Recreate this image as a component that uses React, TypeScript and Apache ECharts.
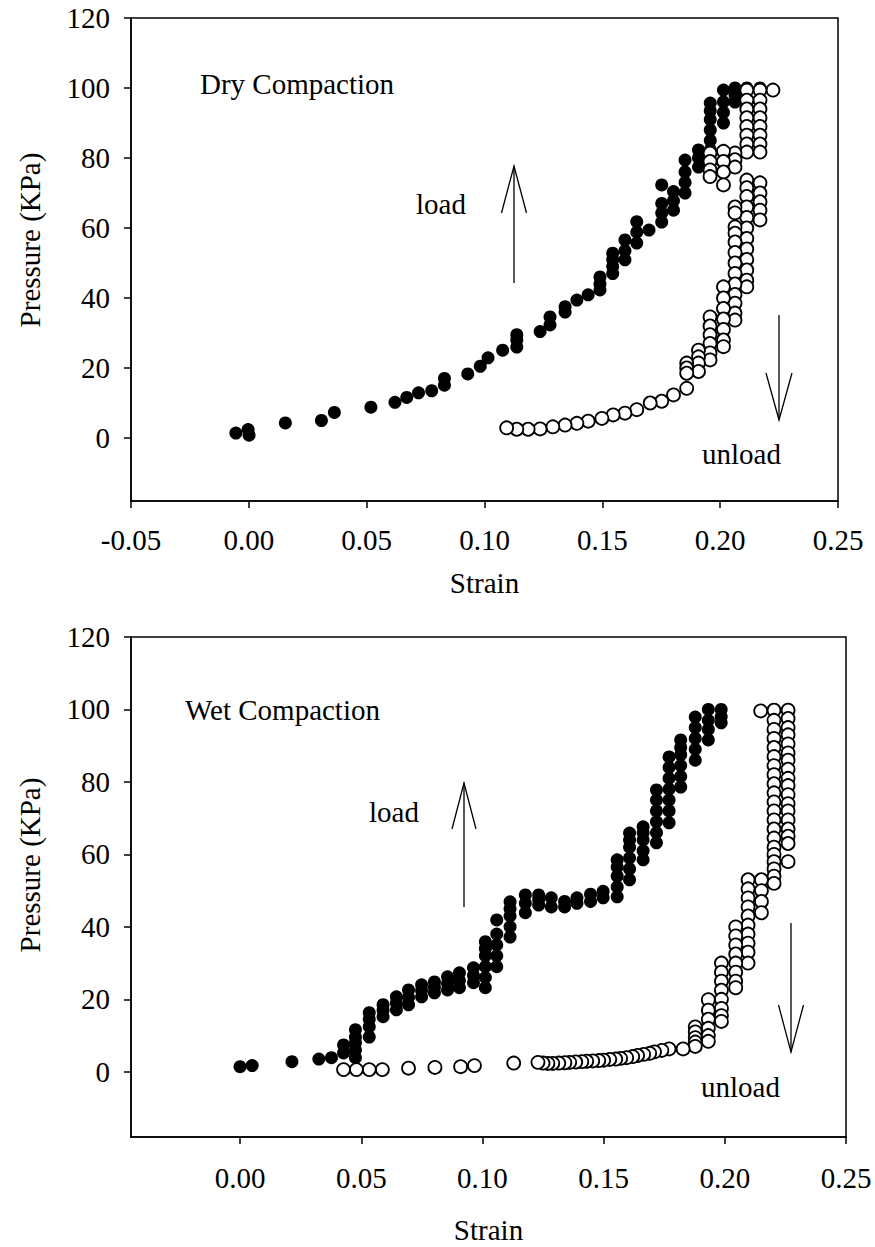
import React, { useEffect, useRef } from "react";
import * as echarts from "echarts";

// ---------- data ----------
const yTicks = [0, 20, 40, 60, 80, 100, 120];
const dryXTicks = [-0.05, 0, 0.05, 0.1, 0.15, 0.2, 0.25];
const wetXTicks = [0, 0.05, 0.1, 0.15, 0.2, 0.25];

// Dry compaction – load (filled)
const dryLoad = [
  [-0.0055, 1.4], [-0.0003, 2.4], [0.0001, 0.8], [0.0155, 4.3], [0.0308, 5.0], [0.0363, 7.3],
  [0.0518, 8.8], [0.062, 10.2], [0.067, 11.6], [0.072, 12.9], [0.0776, 13.5], [0.083, 15.1],
  [0.083, 17.0], [0.0929, 18.3], [0.0982, 20.5], [0.1015, 22.9], [0.1077, 25.1], [0.1137, 26.0],
  [0.1137, 28.0], [0.1137, 29.5], [0.1236, 30.4], [0.1278, 32.3], [0.1278, 34.6], [0.1342, 36.0],
  [0.1342, 37.5], [0.1392, 39.4], [0.144, 40.9], [0.149, 42.3], [0.149, 44.0], [0.149, 46.0],
  [0.1544, 47.0], [0.1544, 49.0], [0.1544, 51.0], [0.1544, 52.8], [0.1596, 50.9], [0.1596, 53.5],
  [0.1596, 56.6], [0.1646, 55.7], [0.1646, 58.8], [0.1646, 61.8], [0.1698, 59.4], [0.1752, 72.3],
  [0.1752, 61.7], [0.1752, 64.3], [0.1752, 67.0], [0.1802, 65.1], [0.1802, 67.8], [0.1802, 70.4],
  [0.1851, 70.0], [0.1851, 73.0], [0.1851, 76.0], [0.1851, 79.4], [0.1908, 77.4], [0.1908, 80.0],
  [0.1908, 82.3], [0.1958, 82.3], [0.1958, 85.0], [0.1958, 88.0], [0.1958, 91.0], [0.1958, 93.5],
  [0.1958, 95.7], [0.2014, 90.0], [0.2014, 93.0], [0.2014, 96.0], [0.2014, 99.4], [0.2063, 96.0],
  [0.2063, 98.0], [0.2063, 100.0], [0.2113, 100.0], [0.2169, 100.0],
];

// Dry compaction – unload (open), in unloading order
const dryUnload = [
  [0.2224, 99.4],
  [0.2169, 99.4], [0.2169, 96.5], [0.2169, 94.0], [0.2169, 91.5], [0.2169, 89.0], [0.2169, 86.5], [0.2169, 84.0], [0.2169, 81.7],
  [0.2113, 99.4], [0.2113, 96.5], [0.2113, 94.0], [0.2113, 91.5], [0.2113, 89.0], [0.2113, 86.5], [0.2113, 84.0], [0.2113, 81.7],
  [0.2063, 81.4], [0.2063, 79.5], [0.2063, 77.4],
  [0.2014, 81.9], [0.2014, 79.0], [0.2014, 76.0], [0.2014, 72.3],
  [0.1957, 81.4], [0.1957, 79.0], [0.1957, 76.6], [0.1957, 74.7],
  [0.2169, 72.9], [0.2169, 70.0], [0.2169, 67.5], [0.2169, 65.1], [0.2169, 62.3],
  [0.2113, 73.7], [0.2113, 71.5], [0.2113, 69.0], [0.2113, 66.0], [0.2113, 63.0], [0.2113, 60.0],
  [0.2113, 57.0], [0.2113, 54.0], [0.2113, 51.0], [0.2113, 48.0], [0.2113, 45.1], [0.2113, 43.2],
  [0.2063, 66.0], [0.2063, 64.3], [0.2063, 60.3], [0.2063, 58.5], [0.2063, 56.0], [0.2063, 53.0],
  [0.2063, 50.0], [0.2063, 47.0], [0.2063, 44.0], [0.2063, 41.0], [0.2063, 38.5], [0.2063, 35.7], [0.2063, 33.7],
  [0.2014, 43.2], [0.2014, 40.0], [0.2014, 37.0], [0.2014, 34.0], [0.2014, 31.0], [0.2014, 28.0], [0.2014, 26.1],
  [0.1957, 34.6], [0.1957, 32.0], [0.1957, 29.5], [0.1957, 27.0], [0.1957, 24.3], [0.1957, 22.3],
  [0.1908, 25.1], [0.1908, 23.2], [0.1908, 21.4], [0.1908, 19.0],
  [0.1858, 21.4], [0.1858, 20.0], [0.1858, 18.5], [0.1858, 14.2],
  [0.1802, 12.3], [0.1752, 10.5], [0.1703, 10.0], [0.1646, 8.1], [0.1596, 7.1], [0.1546, 6.6],
  [0.1498, 5.6], [0.144, 4.8], [0.1392, 4.2], [0.1342, 3.7], [0.129, 3.2], [0.1236, 2.6],
  [0.1185, 2.5], [0.1137, 2.5], [0.1094, 2.9],
];

// Wet compaction – load (filled)
const wetLoad = [
  [0.0, 1.4], [0.005, 1.7], [0.0214, 2.8], [0.0325, 3.5], [0.0377, 3.9], [0.0427, 5.2], [0.0427, 7.4],
  [0.0476, 3.9], [0.0476, 6.0], [0.0476, 8.0], [0.0476, 9.6], [0.0476, 11.6], [0.0533, 9.6],
  [0.0533, 12.4], [0.0533, 14.5], [0.0533, 16.3], [0.059, 15.2], [0.059, 17.0], [0.059, 18.5],
  [0.0645, 17.1], [0.0645, 19.0], [0.0645, 20.7], [0.0695, 18.5], [0.0695, 20.5], [0.0695, 22.6],
  [0.0749, 20.7], [0.0749, 22.4], [0.0749, 24.0], [0.0802, 21.8], [0.0802, 23.3], [0.0802, 24.8],
  [0.0856, 22.6], [0.0856, 24.4], [0.0856, 26.2], [0.0905, 23.2], [0.0905, 25.2], [0.0905, 27.3],
  [0.0963, 24.6], [0.0963, 26.6], [0.0963, 28.7], [0.1012, 23.2], [0.1012, 26.0], [0.1012, 29.0],
  [0.1012, 32.0], [0.1012, 34.0], [0.1012, 35.9], [0.1059, 29.0], [0.1059, 32.0], [0.1059, 35.0],
  [0.1059, 38.0], [0.1059, 41.9], [0.1114, 37.2], [0.1114, 40.0], [0.1114, 43.0], [0.1114, 45.0],
  [0.1114, 46.9], [0.1177, 43.9], [0.1177, 46.5], [0.1177, 48.8], [0.1232, 46.0], [0.1232, 47.5],
  [0.1232, 48.8], [0.1284, 45.5], [0.1284, 48.0], [0.1339, 45.5], [0.1339, 47.0], [0.139, 46.5],
  [0.139, 48.0], [0.1446, 47.0], [0.1446, 49.0], [0.1498, 48.0], [0.1498, 49.8], [0.1556, 48.3],
  [0.1556, 51.0], [0.1556, 54.0], [0.1556, 56.5], [0.1556, 58.5], [0.1607, 53.0], [0.1607, 56.0],
  [0.1607, 59.0], [0.1607, 62.0], [0.1607, 64.0], [0.1607, 65.9], [0.1663, 58.5], [0.1663, 61.0],
  [0.1663, 64.0], [0.1663, 66.0], [0.1663, 67.6], [0.1718, 63.2], [0.1718, 66.0], [0.1718, 69.0],
  [0.1718, 72.0], [0.1718, 75.0], [0.1718, 77.8], [0.177, 68.7], [0.177, 72.0], [0.177, 75.0],
  [0.177, 78.0], [0.177, 81.0], [0.177, 84.0], [0.177, 86.9], [0.1818, 78.6], [0.1818, 81.5],
  [0.1818, 84.5], [0.1818, 87.5], [0.1818, 89.5], [0.1818, 91.6], [0.1878, 86.0], [0.1878, 89.0],
  [0.1878, 92.0], [0.1878, 95.0], [0.1878, 97.9], [0.1932, 91.6], [0.1932, 94.5], [0.1932, 97.0],
  [0.1932, 100.0], [0.1985, 96.3], [0.1985, 98.0], [0.1985, 100.0], [0.2203, 100.0], [0.2261, 100.0],
];

// Wet compaction – unload (open), in unloading order
const wetUnload = [
  [0.2148, 99.6],
  [0.2261, 99.8], [0.2261, 97.5], [0.2261, 95.0], [0.2261, 93.0], [0.2261, 90.5], [0.2261, 88.0],
  [0.2261, 86.0], [0.2261, 83.5], [0.2261, 81.0], [0.2261, 79.0], [0.2261, 76.5], [0.2261, 74.0],
  [0.2261, 72.0], [0.2261, 69.5], [0.2261, 67.0], [0.2261, 65.0], [0.2261, 63.0], [0.2261, 58.0],
  [0.2203, 99.8], [0.2203, 97.0], [0.2203, 94.5], [0.2203, 92.0], [0.2203, 89.5], [0.2203, 87.0],
  [0.2203, 84.5], [0.2203, 82.0], [0.2203, 79.5], [0.2203, 77.0], [0.2203, 74.5], [0.2203, 72.0],
  [0.2203, 69.5], [0.2203, 67.0], [0.2203, 64.5], [0.2203, 62.0], [0.2203, 60.0], [0.2203, 58.0],
  [0.2203, 56.0], [0.2203, 54.0], [0.2203, 52.0],
  [0.2151, 53.0], [0.2151, 50.0], [0.2151, 47.0], [0.2151, 43.9],
  [0.2096, 53.0], [0.2096, 50.5], [0.2096, 48.0], [0.2096, 45.5], [0.2096, 43.0], [0.2096, 40.5],
  [0.2096, 38.0], [0.2096, 35.5], [0.2096, 33.0], [0.2096, 30.0],
  [0.2045, 40.0], [0.2045, 37.5], [0.2045, 35.0], [0.2045, 32.5], [0.2045, 30.0], [0.2045, 27.5],
  [0.2045, 25.0], [0.2045, 23.2],
  [0.1986, 30.0], [0.1986, 27.5], [0.1986, 25.0], [0.1986, 22.5], [0.1986, 20.0], [0.1986, 17.5],
  [0.1986, 15.5], [0.1986, 13.9],
  [0.1932, 19.9], [0.1932, 17.0], [0.1932, 14.5], [0.1932, 12.0], [0.1932, 10.0], [0.1932, 8.4],
  [0.1878, 12.4], [0.1878, 11.0], [0.1878, 9.4], [0.1878, 8.2], [0.1878, 7.0],
  [0.1828, 6.3], [0.177, 6.3], [0.174, 5.9], [0.171, 5.5], [0.169, 5.1], [0.1665, 4.8],
  [0.164, 4.5], [0.162, 4.2], [0.1595, 3.9], [0.157, 3.7], [0.155, 3.5], [0.1525, 3.4],
  [0.15, 3.2], [0.148, 3.1], [0.1455, 3.0], [0.143, 2.9], [0.141, 2.8], [0.1385, 2.7],
  [0.136, 2.6], [0.134, 2.5], [0.1315, 2.4], [0.129, 2.3], [0.127, 2.3], [0.125, 2.4],
  [0.1229, 2.6], [0.1129, 2.4], [0.0967, 1.7], [0.091, 1.4], [0.0804, 1.2], [0.0695, 1.0],
  [0.0587, 0.6], [0.0533, 0.6], [0.048, 0.6], [0.0427, 0.6],
];

const FONT = "Liberation Serif";

export default function App() {
  const ref = useRef<HTMLDivElement>(null);

  useEffect(() => {
    const chart = echarts.init(ref.current as HTMLDivElement, null, { renderer: "svg" });

    const txt = { color: "#000", fontFamily: FONT, fontSize: 29 };
    const line = { color: "#000", width: 1.5 };

    const xAxis = (gridIndex: number, min: number, ticks: number[], nameGap: number, margin: number) => ({
      gridIndex,
      type: "value",
      min,
      max: 0.25,
      axisLine: { show: true, onZero: false, lineStyle: line },
      axisTick: { show: true, inside: false, length: 7, customValues: ticks, lineStyle: line },
      axisLabel: {
        ...txt,
        margin,
        customValues: ticks,
        formatter: (v: number) => v.toFixed(2),
      },
      splitLine: { show: false },
      name: "Strain",
      nameLocation: "middle",
      nameGap,
      nameTextStyle: { ...txt },
    });

    const yAxis = (gridIndex: number) => ({
      gridIndex,
      type: "value",
      min: -18,
      max: 120,
      axisLine: { show: true, onZero: false, lineStyle: line },
      axisTick: { show: true, inside: false, length: 7, customValues: yTicks, lineStyle: line },
      axisLabel: { ...txt, margin: 21, customValues: yTicks },
      splitLine: { show: false },
    });

    const filled = (xi: number, data: number[][]) => ({
      type: "scatter",
      xAxisIndex: xi,
      yAxisIndex: xi,
      data,
      symbol: "circle",
      symbolSize: 13,
      itemStyle: { color: "#000", opacity: 1 },
      z: 2,
      silent: true,
    });
    const open = (xi: number, data: number[][]) => ({
      type: "scatter",
      xAxisIndex: xi,
      yAxisIndex: xi,
      data,
      symbol: "circle",
      symbolSize: 13,
      itemStyle: { color: "#fff", borderColor: "#000", borderWidth: 1.8, opacity: 1 },
      z: 3,
      silent: true,
    });

    const label = (text: string, x: number, y: number, rotate = false) => ({
      type: "text",
      x,
      y,
      rotation: rotate ? Math.PI / 2 : 0,
      style: {
        text,
        fill: "#000",
        fontFamily: FONT,
        fontSize: 29,
        textAlign: rotate ? "center" : "left",
        textVerticalAlign: "middle",
      },
    });
    const stroke = { stroke: "#000", lineWidth: 1.3, fill: null };
    const arrow = (x: number, yTail: number, yTip: number, headY: number, half: number) => [
      { type: "line", shape: { x1: x, y1: yTail, x2: x, y2: yTip }, style: stroke },
      {
        type: "polyline",
        shape: { points: [[x - half, headY], [x, yTip], [x + half, headY]] },
        style: stroke,
      },
    ];

    chart.setOption({
      animation: false,
      backgroundColor: "#fff",
      grid: [
        { left: 131, top: 18, width: 707, height: 483, show: true, borderColor: "#000", borderWidth: 1.5 },
        { left: 131, top: 637, width: 715, height: 500, show: true, borderColor: "#000", borderWidth: 1.5 },
      ],
      xAxis: [xAxis(0, -0.05, dryXTicks, 67, 24), xAxis(1, -0.045, wetXTicks, 78, 26)],
      yAxis: [yAxis(0), yAxis(1)],
      series: [filled(0, dryLoad), open(0, dryUnload), filled(1, wetLoad), open(1, wetUnload)],
      graphic: [
        label("Pressure (KPa)", 30, 240, true),
        label("Pressure (KPa)", 30, 865, true),
        label("Dry Compaction", 200, 84),
        label("load", 416, 204),
        label("unload", 702, 454),
        label("Wet Compaction", 185, 710),
        label("load", 369, 812),
        label("unload", 701, 1087),
        ...arrow(514, 283, 166, 213, 12.5),
        ...arrow(779, 315, 420, 373, 13),
        ...arrow(464, 907, 783, 829, 12),
        ...arrow(791, 923, 1052, 1005, 12.5),
      ],
    });

    return () => chart.dispose();
  }, []);

  return (
    <div
      ref={ref}
      style={{ position: "absolute", left: 0, top: 0, width: 875, height: 1247, background: "#fff" }}
    />
  );
}
